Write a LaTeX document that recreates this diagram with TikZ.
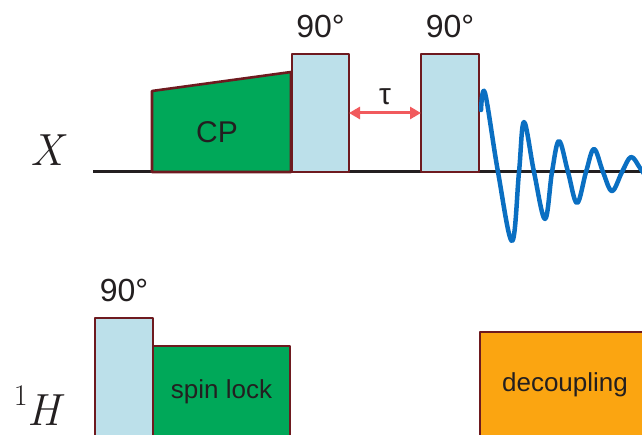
\documentclass[tikz,border=0pt]{standalone}
\usepackage{fontspec}
\setmainfont{Liberation Sans}
\newfontfamily\chanfont{Latin Modern Roman}
\usepackage{tikz}
\usetikzlibrary{arrows.meta,positioning}
\definecolor{pulseblue}{HTML}{BCE0EA}
\definecolor{cpgreen}{HTML}{00A859}
\definecolor{decorange}{HTML}{FBA511}
\definecolor{edgered}{HTML}{6E1A1F}
\definecolor{fidblue}{HTML}{0A6FC2}
\definecolor{taured}{HTML}{F15A5D}
\definecolor{ink}{HTML}{231F20}
\tikzset{
    every picture/.style={line join=round},
    pulse/.style={draw=edgered,fill=pulseblue,line width=2.6pt,
      inner sep=0pt,outer sep=0pt,anchor=south west},
    lockbox/.style={pulse,fill=cpgreen,text=ink,
      font=\fontsize{26}{28}\selectfont},
    decbox/.style={pulse,fill=decorange,text=ink,
      font=\fontsize{26}{28}\selectfont},
    cpshape/.style={draw=edgered,fill=cpgreen,line width=2.6pt},
    anglelabel/.style={inner sep=0pt,text=ink,font=\fontsize{32}{36}\selectfont},
    chanlabel/.style={inner sep=0pt,anchor=base,text=ink,
      font=\chanfont\fontsize{45}{50}\selectfont},
    axisline/.style={draw=ink,line width=3pt},
    tauarrow/.style={{Triangle[length=11pt,width=12pt]}-{Triangle[length=11pt,width=12pt]},
      draw=taured,line width=3pt},
    fid/.style={draw=fidblue,line width=4.5pt,line cap=round}
}

\begin{document}
\begin{tikzpicture}[x=1pt,y=-1pt]
  \useasboundingbox (0,0) rectangle (642,435);
  \clip (0,0) rectangle (642,435);
  % X channel
  \coordinate (xstart) at (93,172);
  \coordinate (xend) at (642,172);
  \draw[axisline] (xstart) -- (xend);
  \node[chanlabel] (xlab) at (47,166) {\itshape X};
  \draw[cpshape] (152,172) -- (152,91) -- (291,72) -- (291,172) -- cycle;
  \node[anglelabel,anchor=base,font=\fontsize{30}{34}\selectfont] (cp) at (217,143) {CP};
  \node[pulse,minimum width=57pt,minimum height=118pt] (p1) at (292,172) {};
  \node[pulse,minimum width=58pt,minimum height=118pt] (p2) at (421,172) {};
  \node[anglelabel,above=16pt of p1] (a1) {90°};
  \node[anglelabel,above=16pt of p2] (a2) {90°};
  \draw[tauarrow] (p1.east) -- node[anglelabel,above=7pt,font=\fontsize{30}{34}\selectfont]{τ} (p2.west);
  \draw[fid] plot[smooth,tension=0.6] coordinates {(481,110) (485,93) (498,172) (512,241)
    (519,172) (524,122) (534,172) (545,219) (552,172) (559,141) (568,172) (577,203)
    (586,172) (594,149) (603,172) (612,191) (622,172) (631,157) (640,168) (648,180)};
  % 1H channel
  \node[chanlabel] (hlab) at (37,425) {\raisebox{20pt}{\fontsize{30}{30}\selectfont 1}\itshape H};
  \node[pulse,minimum width=58pt,minimum height=120pt] (hp) at (95,438) {};
  \node[lockbox,minimum width=137pt,minimum height=92pt] (sl) at (153,438) {spin lock};
  \node[decbox,minimum width=170pt,minimum height=106pt] (dec) at (480,438) {decoupling};
  \node[anglelabel,above=16pt of hp] (a3) {90°};
\end{tikzpicture}
\end{document}
